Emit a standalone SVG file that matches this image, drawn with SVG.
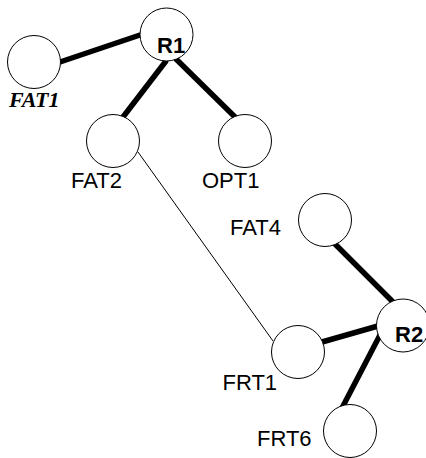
<svg xmlns="http://www.w3.org/2000/svg" width="426" height="458" viewBox="0 0 426 458">
<style>
.node{fill:#fff;stroke:#000;stroke-width:1}
.lbl{font-family:"Liberation Sans",Arial,sans-serif;font-size:22px;fill:#000}
.bold{font-weight:bold}
.ital{font-family:"Liberation Serif","Times New Roman",serif;font-style:italic;font-weight:bold;font-size:22px}
.thick{stroke:#000;stroke-width:5.5;fill:none}
.thin{stroke:#000;stroke-width:1;fill:none}
.dot{fill:#000}
</style>
<rect width="426" height="458" fill="#fff"/>
<g id="connectors">
<line class="thick" x1="60" y1="62" x2="140" y2="35"/>
<line class="thick" x1="166" y1="61" x2="123" y2="117"/>
<line class="thick" x1="176" y1="59" x2="235" y2="117"/>
<line class="thin" x1="138" y1="152" x2="273" y2="341"/>
<line class="thick" x1="334" y1="243" x2="394" y2="303"/>
<line class="thick" x1="322" y1="342" x2="378" y2="326"/>
<line class="thick" x1="380" y1="335" x2="342" y2="408"/>
<circle class="dot" cx="60" cy="62" r="2.5"/><circle class="dot" cx="140" cy="35" r="2.5"/>
<circle class="dot" cx="166" cy="61" r="2.5"/><circle class="dot" cx="123" cy="117" r="2.5"/>
<circle class="dot" cx="176" cy="59" r="2.5"/><circle class="dot" cx="235" cy="117" r="2.5"/>
<circle class="dot" cx="334" cy="243" r="2.5"/><circle class="dot" cx="394" cy="303" r="2.5"/>
<circle class="dot" cx="322" cy="342" r="2.5"/><circle class="dot" cx="378" cy="326" r="2.5"/>
<circle class="dot" cx="380" cy="335" r="2.5"/><circle class="dot" cx="342" cy="408" r="2.5"/>
</g>
<g id="FAT1"><circle class="node" cx="34" cy="62" r="26.5"/><text class="ital" x="9" y="107">FAT1</text></g>
<g id="R1"><circle class="node" cx="166.5" cy="34.5" r="26.5"/><text class="lbl bold" x="157" y="53">R1</text></g>
<g id="FAT2"><circle class="node" cx="113" cy="141" r="26.5"/><text class="lbl" x="71" y="188">FAT2</text></g>
<g id="OPT1"><circle class="node" cx="245" cy="141" r="26.5"/><text class="lbl" x="202" y="188">OPT1</text></g>
<g id="FAT4"><circle class="node" cx="325" cy="220" r="26.5"/><text class="lbl" x="230" y="234.5">FAT4</text></g>
<g id="R2"><circle class="node" cx="403" cy="325.5" r="26.5"/><text class="lbl bold" x="395" y="342">R2</text></g>
<g id="FRT1"><circle class="node" cx="298" cy="352" r="26.5"/><text class="lbl" x="222.5" y="390">FRT1</text></g>
<g id="FRT6"><circle class="node" cx="350" cy="431" r="26.5"/><text class="lbl" x="257" y="446">FRT6</text></g>
</svg>
